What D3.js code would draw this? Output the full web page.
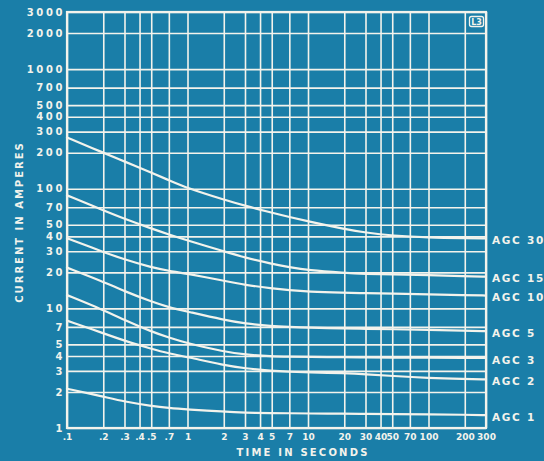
<!DOCTYPE html>
<html><head><meta charset="utf-8">
<script src="https://cdn.jsdelivr.net/npm/d3@7"></script>
<style>
html,body{margin:0;padding:0;background:#1a7ea8;}
svg{display:block;}
text{font-family:"DejaVu Sans",sans-serif;font-weight:bold;fill:#f3f3ec;}
</style></head>
<body>
<svg id="chart" width="544" height="461"></svg>
<script>
const times = [0.1, 0.2, 0.3, 0.5, 0.7, 1, 2, 3, 5, 7, 10, 20, 30, 50, 100, 200, 300];
const seriesNames = ["AGC 30", "AGC 15", "AGC 10", "AGC 5", "AGC 3", "AGC 2", "AGC 1"];
const agc30 = [268, 200, 169, 136, 118, 101, 81, 72, 63, 58, 53.5, 46, 43, 40.5, 39, 38.6, 38.5];
const agc15 = [88, 66, 56, 46.5, 41.5, 37, 30, 26.5, 23.6, 22.1, 20.8, 19.8, 19.4, 19.2, 19, 18.6, 18.4];
const agc10 = [38.6, 29.6, 25.6, 22, 20.6, 19.5, 17, 15.7, 14.7, 14.2, 13.8, 13.5, 13.4, 13.3, 13.1, 12.9, 12.8];
const agc5 = [21.9, 16.7, 13.9, 11.4, 10.2, 9.4, 8.0, 7.45, 7.1, 7.0, 6.9, 6.8, 6.75, 6.7, 6.6, 6.5, 6.45];
const agc3 = [12.9, 9.7, 8.0, 6.4, 5.7, 5.1, 4.35, 4.1, 3.97, 3.95, 3.93, 3.9, 3.9, 3.88, 3.87, 3.85, 3.85];
const agc2 = [7.9, 6.2, 5.35, 4.6, 4.2, 3.92, 3.35, 3.15, 3.0, 2.95, 2.92, 2.87, 2.82, 2.72, 2.62, 2.57, 2.55];
const agc1 = [2.13, 1.83, 1.66, 1.53, 1.47, 1.43, 1.37, 1.345, 1.33, 1.33, 1.32, 1.32, 1.31, 1.31, 1.3, 1.29, 1.28];
const seriesValues = [agc30, agc15, agc10, agc5, agc3, agc2, agc1];

const xTickValues = [0.1, 0.2, 0.3, 0.4, 0.5, 0.7, 1, 2, 3, 4, 5, 7, 10, 20, 30, 40, 50, 70, 100, 200, 300];
const xTickLabels = [".1", ".2", ".3", ".4", ".5", ".7", "1", "2", "3", "4", "5", "7", "10", "20", "30", "40", "50", "70", "100", "200", "300"];
const yTickValues = [1, 2, 3, 4, 5, 7, 10, 20, 30, 40, 50, 70, 100, 200, 300, 400, 500, 700, 1000, 2000, 3000];
const yTickLabels = ["1", "2", "3", "4", "5", "7", "10", "20", "30", "40", "50", "70", "100", "200", "300", "400", "500", "700", "1000", "2000", "3000"];

const L = 67, R = 486, T = 12, B = 428;
const ink = "#f3f3ec";
const svg = d3.select("#chart");
const x = d3.scaleLog().domain([0.1, 300]).range([L, R]);
const y = d3.scaleLog().domain([1, 3000]).range([B, T]);

// vertical gridlines + x labels
const xAxis = d3.axisBottom(x).tickValues(xTickValues)
  .tickSize(-(B - T)).tickPadding(6)
  .tickFormat((d, i) => xTickLabels[i]);
const gx = svg.append("g").attr("transform", `translate(0,${B})`).call(xAxis);
gx.select(".domain").remove();
gx.selectAll(".tick line").attr("stroke", ink).attr("stroke-width", 1.6);
gx.selectAll(".tick text").attr("font-size", 9).attr("fill", ink)
  .attr("font-family", "DejaVu Sans Condensed, DejaVu Sans").attr("font-weight", "bold");

// horizontal gridlines + y labels
const yAxis = d3.axisLeft(y).tickValues(yTickValues)
  .tickSize(-(R - L)).tickPadding(2)
  .tickFormat((d, i) => yTickLabels[i]);
const gy = svg.append("g").attr("transform", `translate(${L},0)`).call(yAxis);
gy.select(".domain").remove();
gy.selectAll(".tick line").attr("stroke", ink).attr("stroke-width", 1.6);
gy.selectAll(".tick text").attr("font-size", 10).attr("fill", ink)
  .attr("letter-spacing", "2.6px")
  .attr("font-family", "DejaVu Sans").attr("font-weight", "bold");

// frame
svg.append("rect").attr("x", L).attr("y", T).attr("width", R - L).attr("height", B - T)
  .attr("fill", "none").attr("stroke", ink).attr("stroke-width", 2.2);

// curves
const line = d3.line().x(d => x(d[0])).y(d => y(d[1])).curve(d3.curveBasis);
seriesValues.forEach((vals, i) => {
  const pts = times.map((t, j) => [t, vals[j]]);
  svg.append("path").attr("d", line(pts)).attr("fill", "none")
    .attr("stroke", ink).attr("stroke-width", 2.2).attr("stroke-linecap", "round");
  const last = vals[vals.length - 1];
  const parts = seriesNames[i].split(" ");
  const t = svg.append("text").attr("x", 492).attr("y", y(last) + 2).attr("dy", "0.36em")
    .attr("font-size", 10.5).attr("letter-spacing", "1.6px");
  t.append("tspan").text(parts[0]);
  t.append("tspan").attr("x", 527).text(parts[1]);
});

// axis titles
svg.append("text").attr("x", 303).attr("y", 456).attr("text-anchor", "middle")
  .attr("font-size", 10).attr("letter-spacing", "2.2px").text("TIME IN SECONDS");
svg.append("text").attr("transform", "translate(23,222) rotate(-90)")
  .attr("text-anchor", "middle").attr("font-size", 10).attr("letter-spacing", "2px")
  .text("CURRENT IN AMPERES");

// L3 tag
svg.append("rect").attr("x", 469.5).attr("y", 16.5).attr("width", 14).attr("height", 10)
  .attr("rx", 2).attr("fill", "none").attr("stroke", ink).attr("stroke-width", 1.3);
svg.append("text").attr("x", 476.5).attr("y", 21.8).attr("dy", "0.35em").attr("text-anchor", "middle")
  .attr("font-size", 8).text("L3");
</script>
</body></html>
